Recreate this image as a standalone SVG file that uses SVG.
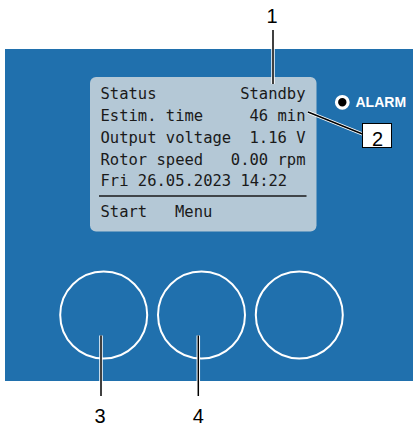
<svg xmlns="http://www.w3.org/2000/svg" width="413" height="425" viewBox="0 0 413 425">
<style>
.lcd{font-family:"DejaVu Sans Mono","Liberation Mono",monospace;font-size:15.5px;fill:#1a1a1a}
.num{font-family:"Liberation Sans",Arial,sans-serif;font-size:20px;fill:#000;text-anchor:middle}
.halo{stroke:#fff;stroke-width:3.5;fill:none}
.ln{stroke:#000;stroke-width:1.5;fill:none}
.btn{fill:none;stroke:#fff;stroke-width:2}
</style>
<rect width="413" height="425" fill="#fff"/>
<g id="panel">
<rect x="5" y="49" width="408" height="332" fill="#2070ad"/>
</g>
<g id="display">
<rect x="90" y="77" width="226.5" height="154.5" rx="6" fill="#b4c8d6"/>
<text class="lcd" x="100.5" y="99">Status</text>
<text class="lcd" x="305.5" y="99" text-anchor="end">Standby</text>
<text class="lcd" x="100.5" y="121">Estim. time</text>
<text class="lcd" x="305.5" y="121" text-anchor="end">46 min</text>
<text class="lcd" x="100.5" y="143">Output voltage</text>
<text class="lcd" x="305.5" y="143" text-anchor="end">1.16 V</text>
<text class="lcd" x="100.5" y="164.5">Rotor speed</text>
<text class="lcd" x="305.5" y="164.5" text-anchor="end">0.00 rpm</text>
<text class="lcd" x="100.5" y="186">Fri 26.05.2023 14:22</text>
<line x1="99" y1="196" x2="306.5" y2="196" stroke="#1a1a1a" stroke-width="1.5"/>
<text class="lcd" x="100.5" y="217">Start</text>
<text class="lcd" x="175" y="217">Menu</text>
</g>
<g id="alarm">
<circle cx="342.3" cy="102.3" r="5.8" fill="#000" stroke="#fff" stroke-width="3.2"/>
<text x="355.5" y="107" font-family="Liberation Sans,Arial,sans-serif" font-weight="bold" font-size="14" fill="#fff">ALARM</text>
</g>
<g id="buttons">
<circle class="btn" cx="103.7" cy="315" r="43.5"/>
<circle class="btn" cx="201.5" cy="315" r="43.5"/>
<circle class="btn" cx="299.3" cy="315" r="43.5"/>
</g>
<g id="connectors">
<line class="halo" x1="273" y1="30" x2="273" y2="84"/>
<line class="ln" x1="273" y1="30" x2="273" y2="84"/>
<line class="halo" x1="308" y1="112" x2="362.5" y2="134"/>
<line class="ln" x1="308" y1="112" x2="362.5" y2="134"/>
<line class="halo" x1="101" y1="335.5" x2="101" y2="396"/>
<line class="ln" x1="101" y1="335.5" x2="101" y2="396"/>
<line class="halo" x1="198.3" y1="335.5" x2="198.3" y2="396"/>
<line class="ln" x1="198.3" y1="335.5" x2="198.3" y2="396"/>
</g>
<g id="callout1"><text class="num" x="272" y="23">1</text></g>
<g id="callout2">
<rect x="362.5" y="123.5" width="29" height="24" fill="#fff" stroke="#000" stroke-width="1"/>
<text class="num" x="377.5" y="146">2</text>
</g>
<g id="callout3"><text class="num" x="100" y="422.5">3</text></g>
<g id="callout4"><text class="num" x="198.3" y="422.5">4</text></g>
</svg>
